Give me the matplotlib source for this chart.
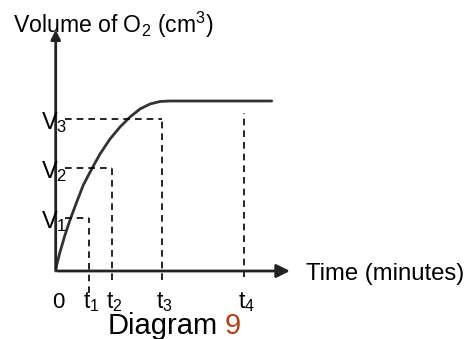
import matplotlib.pyplot as plt

plt.rcParams['font.family'] = ['Liberation Sans', 'DejaVu Sans']
plt.rcParams['mathtext.fontset'] = 'custom'
plt.rcParams['mathtext.rm'] = 'Liberation Sans'
plt.rcParams['mathtext.it'] = 'Liberation Sans'

# curve (time, volume) in arbitrary units
curve_t = [0, 1, 4.3, 9.3, 14.3, 21, 27.6, 36, 44.3, 54.3, 64.3, 74.3, 84.3,
           94.3, 104.3, 114.3, 216]
curve_v = [0, 6, 19, 36, 51, 69, 86, 102, 117, 132, 144, 154, 162,
           167, 169.5, 170, 170]

# marked times / volumes
t_marks = [33.3, 56.6, 106, 188.3]
t_labels = ['t$_1$', 't$_2$', 't$_3$', 't$_4$']
t_tops = [53.3, 103.3, 152.3, 158]
t_bottoms = [-22, -9, -9, -6]
v_marks = [53.3, 103.3, 152.3]
v_labels = ['V$_1$', 'V$_2$', 'V$_3$']
v_ends = [33.3, 56.6, 106]

fig = plt.figure(figsize=(4.67, 3.39), dpi=100)
ax = fig.add_axes([0, 0, 1, 1])
ax.set_xlim(-55.7, 411.3)
ax.set_ylim(-68, 271)
ax.axis('off')

# axes with arrows
ax.annotate('', xy=(237, 0), xytext=(-1, 0),
            arrowprops=dict(arrowstyle='-|>', lw=2, color='#222222', mutation_scale=20))
ax.annotate('', xy=(0, 244), xytext=(0, -1),
            arrowprops=dict(arrowstyle='-|>', lw=2, color='#222222', mutation_scale=14))

# curve
ax.plot(curve_t, curve_v, color='#333333', lw=2, solid_capstyle='round',
        solid_joinstyle='round')

# dashed guides
for t, top, bot in zip(t_marks, t_tops, t_bottoms):
    ax.plot([t, t], [bot, top], color='black', lw=1.2, ls=(0, (4, 3)))
for v, end in zip(v_marks, v_ends):
    ax.plot([9, end], [v, v], color='black', lw=1.2, ls=(0, (4, 3)))

# labels
for v, lab in zip(v_marks, v_labels):
    ax.text(-15, v - 10, lab, fontsize=17, va='baseline', ha='left')
ax.text(-3.5, -37, '0', fontsize=16, va='baseline', ha='left')
for t, lab in zip(t_marks, t_labels):
    ax.text(t - 6, -37, lab, fontsize=16.5, va='baseline', ha='left')

ax.text(-42.7, 238, 'Volume of O$_2$ (cm$^3$)', fontsize=16.6, va='baseline', ha='left')
ax.text(250, -9, 'Time (minutes)', fontsize=17.2, va='baseline', ha='left')
ax.text(52, -63, 'Diagram', fontsize=21, va='baseline', ha='left')
ax.text(169, -63, '9', fontsize=21, va='baseline', ha='left', color='#b5400c')

fig.savefig('out.png', dpi=100)
